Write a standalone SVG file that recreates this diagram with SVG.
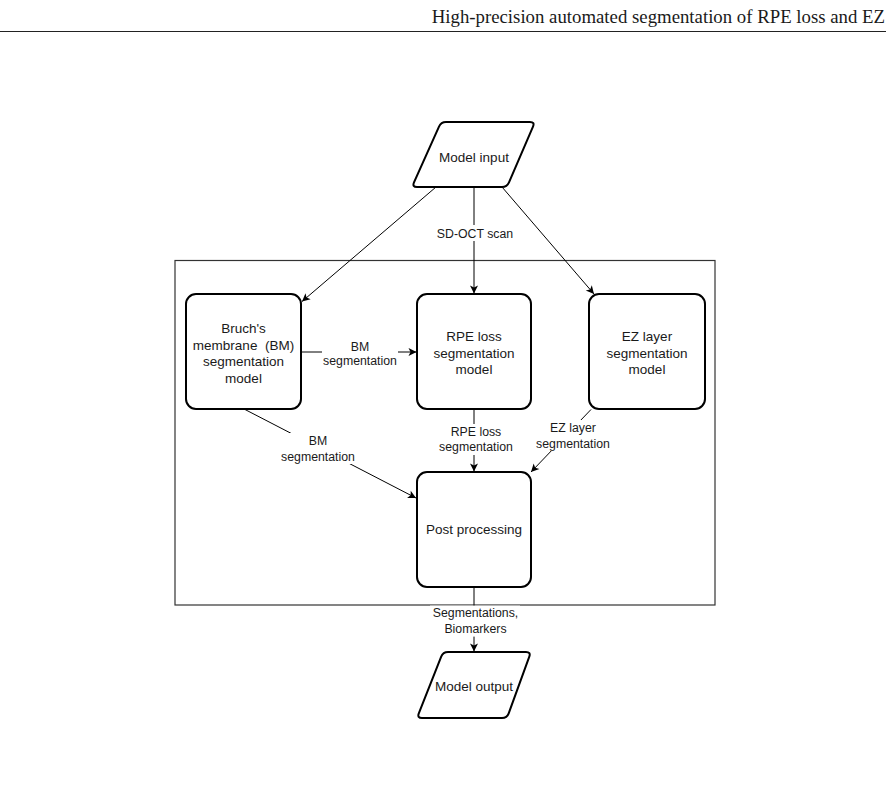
<svg xmlns="http://www.w3.org/2000/svg" width="892" height="787" viewBox="0 0 892 787">
<defs>
<style>
.node{fill:#fff;stroke:#000;stroke-width:2}
.nt{font-family:"Liberation Sans",Arial,sans-serif;font-size:13.5px;fill:#1a1a1a;text-anchor:middle}
.lt{font-family:"Liberation Sans",Arial,sans-serif;font-size:12.3px;fill:#1a1a1a;text-anchor:middle}
.edge{fill:none;stroke:#000;stroke-width:1}
.lbg{fill:#fff;stroke:none}
</style>
<marker id="arr" markerWidth="10" markerHeight="10" refX="9" refY="5" orient="auto" markerUnits="userSpaceOnUse">
<path d="M1,1 L9,5 L1,9 L3,5 z" fill="#000"/>
</marker>
</defs>
<rect width="892" height="787" fill="#fff"/>
<g id="header">
<text x="885" y="23" font-family="'Liberation Serif','Times New Roman',serif" font-size="18.8" text-anchor="end" fill="#1a1a1a">High-precision automated segmentation of RPE loss and EZ</text>
<line x1="0" y1="31.5" x2="886" y2="31.5" stroke="#222" stroke-width="1.2"/>
</g>
<g id="container">
<rect x="175" y="260.5" width="540" height="344.5" fill="none" stroke="#333" stroke-width="1.2"/>
</g>
<g id="connectors">
<line class="edge" x1="436" y1="187" x2="302" y2="301.5" marker-end="url(#arr)"/>
<line class="edge" x1="474" y1="187" x2="474" y2="293.5" marker-end="url(#arr)"/>
<line class="edge" x1="502" y1="187" x2="594" y2="294" marker-end="url(#arr)"/>
<line class="edge" x1="301" y1="352" x2="416.5" y2="352" marker-end="url(#arr)"/>
<line class="edge" x1="474" y1="409" x2="474" y2="471.5" marker-end="url(#arr)"/>
<line class="edge" x1="591" y1="409.5" x2="531" y2="472" marker-end="url(#arr)"/>
<line class="edge" x1="245" y1="409.5" x2="416" y2="498" marker-end="url(#arr)"/>
<line class="edge" x1="474" y1="587" x2="474" y2="651.5" marker-end="url(#arr)"/>
<rect class="lbg" x="436" y="225" width="78" height="16"/>
<text class="lt" x="475" y="237.5">SD-OCT scan</text>
<rect class="lbg" x="322" y="339" width="76" height="31"/>
<text class="lt" x="360" y="350.5">BM</text>
<text class="lt" x="360" y="365">segmentation</text>
<rect class="lbg" x="438" y="424" width="76" height="31"/>
<text class="lt" x="476" y="436">RPE loss</text>
<text class="lt" x="476" y="450.5">segmentation</text>
<rect class="lbg" x="535" y="420" width="76" height="31"/>
<text class="lt" x="573" y="432">EZ layer</text>
<text class="lt" x="573" y="447.5">segmentation</text>
<rect class="lbg" x="280" y="433" width="76" height="31"/>
<text class="lt" x="318" y="445">BM</text>
<text class="lt" x="318" y="460.5">segmentation</text>
<rect class="lbg" x="430" y="605.6" width="90" height="31"/>
<text class="lt" x="475.5" y="616.5">Segmentations,</text>
<text class="lt" x="475.5" y="632.5">Biomarkers</text>
</g>
<g id="model-input">
<path class="node" d="M446,122 L530,122 Q535,122 533,126.6 L509,182.4 Q507,187 502,187 L417,187 Q412,187 414,182.4 L439,126.6 Q441,122 446,122 Z"/>
<text class="nt" x="474" y="162">Model input</text>
</g>
<g id="bm-model">
<rect class="node" x="186" y="294" width="115" height="115" rx="10"/>
<text class="nt" x="243.5" y="333">Bruch's</text>
<text class="nt" x="243.5" y="349.5" xml:space="preserve">membrane  (BM)</text>
<text class="nt" x="243.5" y="366">segmentation</text>
<text class="nt" x="243.5" y="382.5">model</text>
</g>
<g id="rpe-model">
<rect class="node" x="417" y="294" width="114" height="115" rx="10"/>
<text class="nt" x="474" y="341">RPE loss</text>
<text class="nt" x="474" y="357.5">segmentation</text>
<text class="nt" x="474" y="374">model</text>
</g>
<g id="ez-model">
<rect class="node" x="589" y="294" width="116" height="115" rx="10"/>
<text class="nt" x="647" y="341">EZ layer</text>
<text class="nt" x="647" y="357.5">segmentation</text>
<text class="nt" x="647" y="374">model</text>
</g>
<g id="post-processing">
<rect class="node" x="417" y="472" width="114" height="115" rx="10"/>
<text class="nt" x="474" y="534">Post processing</text>
</g>
<g id="model-output">
<path class="node" d="M448,652 L526,652 Q531,652 529.3,656.7 L508.7,713.3 Q507,718 502,718 L422,718 Q417,718 418.8,713.35 L441.2,656.65 Q443,652 448,652 Z"/>
<text class="nt" x="474" y="690.5">Model output</text>
</g>
</svg>
